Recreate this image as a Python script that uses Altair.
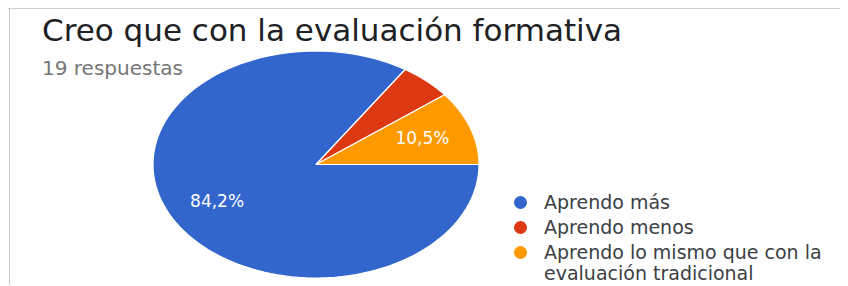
import json
import altair as alt
import pandas as pd

# ---- data ----
categories = [
    "Aprendo más",
    "Aprendo menos",
    "Aprendo lo mismo que con la evaluación tradicional",
]
counts = [16, 1, 2]
colors = ["#3366cc", "#dc3912", "#ff9900"]
wrapped_label = ["Aprendo lo mismo que con la", "evaluación tradicional"]
title_text = "Creo que con la evaluación formativa"
subtitle_text = "19 respuestas"

df = pd.DataFrame({"categoria": categories, "respuestas": counts})

W, H = 832, 277
STEPS = 120
FONT = "DejaVu Sans"

xs = alt.Scale(domain=[-1, 1], range=[145, 471], nice=False, zero=False)
ys = alt.Scale(domain=[-1, 1], range=[270, 43], nice=False, zero=False)

label_expr = (
    f"datum.label == {json.dumps(categories[2])} ? {json.dumps(wrapped_label)} : datum.label"
)

color = alt.Color(
    "categoria:N",
    sort=categories,
    scale=alt.Scale(domain=categories, range=colors),
    legend=alt.Legend(
        title=None,
        orient="none",
        legendX=503,
        legendY=185,
        symbolType="circle",
        symbolSize=170,
        symbolStrokeWidth=0,
        labelFont=FONT,
        labelFontSize=19,
        labelColor="#3c4043",
        labelLimit=500,
        labelOffset=14,
        rowPadding=5,
        labelExpr=label_expr,
    ),
)

base = (
    alt.Chart(df)
    .transform_window(acum="sum(respuestas)", frame=[None, 0])
    .transform_joinaggregate(total="sum(respuestas)")
    .transform_calculate(
        a0="PI/2 + 2*PI*(datum.acum - datum.respuestas)/datum.total",
        a1="PI/2 + 2*PI*datum.acum/datum.total",
        frac="datum.respuestas/datum.total",
    )
)

slices = (
    base.transform_calculate(pasos=f"sequence(0, {STEPS + 3})")
    .transform_flatten(["pasos"])
    .transform_calculate(
        ang=f"datum.a0 + (datum.a1 - datum.a0) * clamp(datum.pasos - 1, 0, {STEPS}) / {STEPS}",
        borde=f"datum.pasos > 0 && datum.pasos < {STEPS + 2}",
    )
    .transform_calculate(
        px="datum.borde ? sin(datum.ang) : 0",
        py="datum.borde ? cos(datum.ang) : 0",
    )
    .mark_line(filled=True, stroke="white", strokeWidth=1.2, strokeJoin="round")
    .encode(
        x=alt.X("px:Q", scale=xs, axis=None),
        y=alt.Y("py:Q", scale=ys, axis=None),
        order=alt.Order("pasos:Q"),
        color=color,
    )
)

labels = (
    base.transform_filter("datum.frac >= 0.06")
    .transform_calculate(
        am="(datum.a0 + datum.a1)/2",
    )
    .transform_calculate(
        lx="0.69*sin(datum.am)",
        ly="0.69*cos(datum.am)",
        txt="replace(format(datum.frac*100, '.1f'), '.', ',') + '%'",
    )
    .mark_text(font=FONT, fontSize=17, color="white")
    .encode(
        x=alt.X("lx:Q", scale=xs, axis=None),
        y=alt.Y("ly:Q", scale=ys, axis=None),
        text="txt:N",
    )
)

top_border = alt.Chart(df).mark_rule(color="#d0d0d0", strokeWidth=1).encode(
    x=alt.value(0), x2=alt.value(W), y=alt.value(0.5)
)
left_border = alt.Chart(df).mark_rule(color="#c8c8c8", strokeWidth=1).encode(
    x=alt.value(1.5), y=alt.value(0), y2=alt.value(H)
)

chart = (
    alt.layer(top_border, left_border, slices, labels)
    .properties(
        width=W,
        height=H,
        autosize=alt.AutoSizeParams(type="none"),
        padding=0,
        title=alt.Title(
            title_text,
            subtitle=subtitle_text,
            anchor="start",
            frame="group",
            font=FONT,
            fontSize=31,
            fontWeight="normal",
            color="#202124",
            subtitleFont=FONT,
            subtitleFontSize=20,
            subtitleColor="#757575",
            subtitlePadding=11,
            dx=34,
            dy=76,
        ),
    )
    .configure_view(stroke=None)
    .resolve_scale(x="shared", y="shared")
)

chart.save("out.html", embed_options={"renderer": "svg", "actions": False})
